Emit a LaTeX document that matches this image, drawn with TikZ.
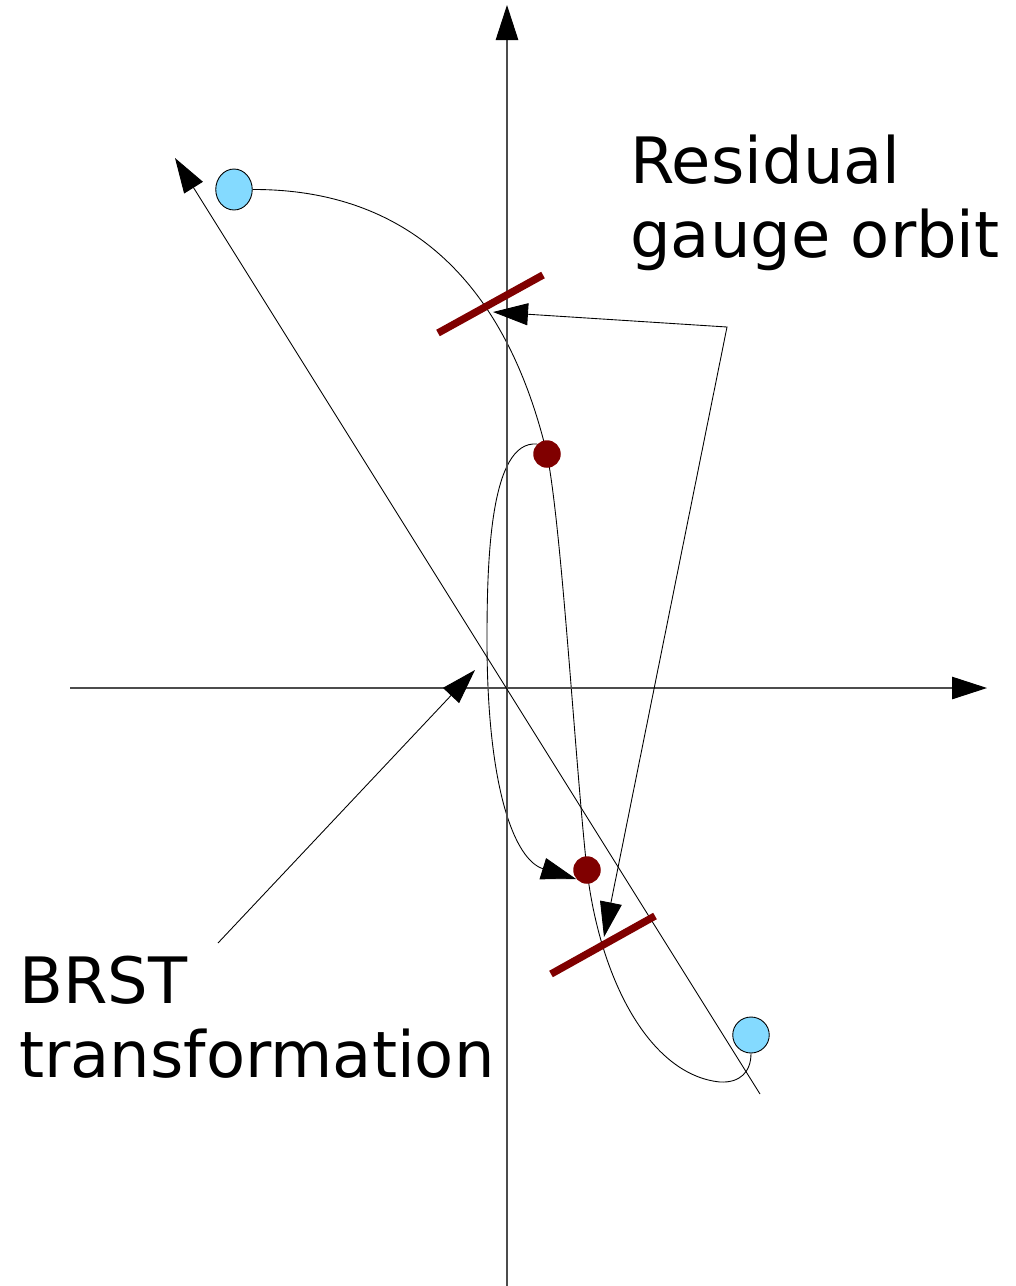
\documentclass[tikz,border=0pt]{standalone}
\usepackage{fontspec}
\setmainfont{DejaVu Sans}
\usetikzlibrary{arrows.meta,shapes.geometric,backgrounds}
\definecolor{cpunto}{HTML}{800000}
\definecolor{cextremo}{HTML}{84DAFF}
\tikzset{
  extremo/.style={ellipse,draw=black,fill=cextremo,line width=0.5pt,
                  inner sep=0pt,minimum width=7.3mm},
  punto/.style={circle,fill=cpunto,inner sep=0pt,minimum size=5.5mm},
  corte/.style={draw=cpunto,line width=4.2pt},
  eje/.style={draw=black!70,line width=0.6pt,
              -{Triangle[length=7mm,width=4.5mm,color=black]}},
  flecha/.style={draw=black,line width=0.5pt,-{Triangle[length=7mm,width=4.4mm]}},
  flechas/.style={flecha,{Triangle[length=7mm,width=4.4mm]}-{Triangle[length=7mm,width=4.4mm]}},
  orbita/.style={draw=black,line width=0.5pt},
  et/.style={font=\fontsize{36.4}{42}\selectfont,align=left,inner sep=0pt},
}

\begin{document}
\begin{tikzpicture}[x=0.02cm,y=-0.02cm]
\useasboundingbox (0,0) rectangle (1016,1286);

% ejes
\coordinate (xi) at (70,688);
\coordinate (xd) at (987,688);
\coordinate (yi) at (507,1286);
\coordinate (ys) at (507,5);
\draw[eje] (xi) -- (xd);
\draw[eje] (yi) -- (ys);

% recta de referencia
\coordinate (ri) at (760,1094);
\coordinate (rs) at (175,158);
\draw[flecha] (ri) -- (rs);

\node[extremo,minimum height=8.2mm] (a) at (234,189.5) {};
\node[extremo,minimum height=7.2mm] (b) at (751,1035) {};
\node[punto] (p1) at (547,454) {};
\node[punto] (p2) at (587,870) {};

\begin{scope}[on background layer]
\draw[orbita] (a.east) .. controls (382,189) and (499,254) .. (p1.center)
  .. controls (562,530) and (575,760) .. (p2.center)
  .. controls (600,980) and (650,1075) .. (720,1082)
  .. controls (740,1083) and (751,1072) .. (b.south);
\draw[flecha] (p1.135) .. controls (490,440) and (487,560) .. (487,640)
  .. controls (487,790) and (515,860) .. (p2.220);
\end{scope}

% cortes de la orbita
\coordinate (c1a) at (438,333);
\coordinate (c1b) at (543,275);
\coordinate (c2a) at (551,974);
\coordinate (c2b) at (655,916);
\draw[corte] (c1a) -- (c1b);
\draw[corte] (c2a) -- (c2b);

\node[et,anchor=base west] (res) at (630,257) {Residual\\gauge orbit};
\node[et,anchor=base west] (brst) at (19,1077) {BRST\\transformation};

\coordinate (rq) at (727,327);
\coordinate (t1) at (493,312);
\coordinate (t2) at (604,937);
\draw[flechas] (t1) -- (rq) -- (t2);

\coordinate (bq) at (218,943);
\coordinate (bt) at (475,670);
\draw[flecha] (bq) -- (bt);

\end{tikzpicture}
\end{document}
